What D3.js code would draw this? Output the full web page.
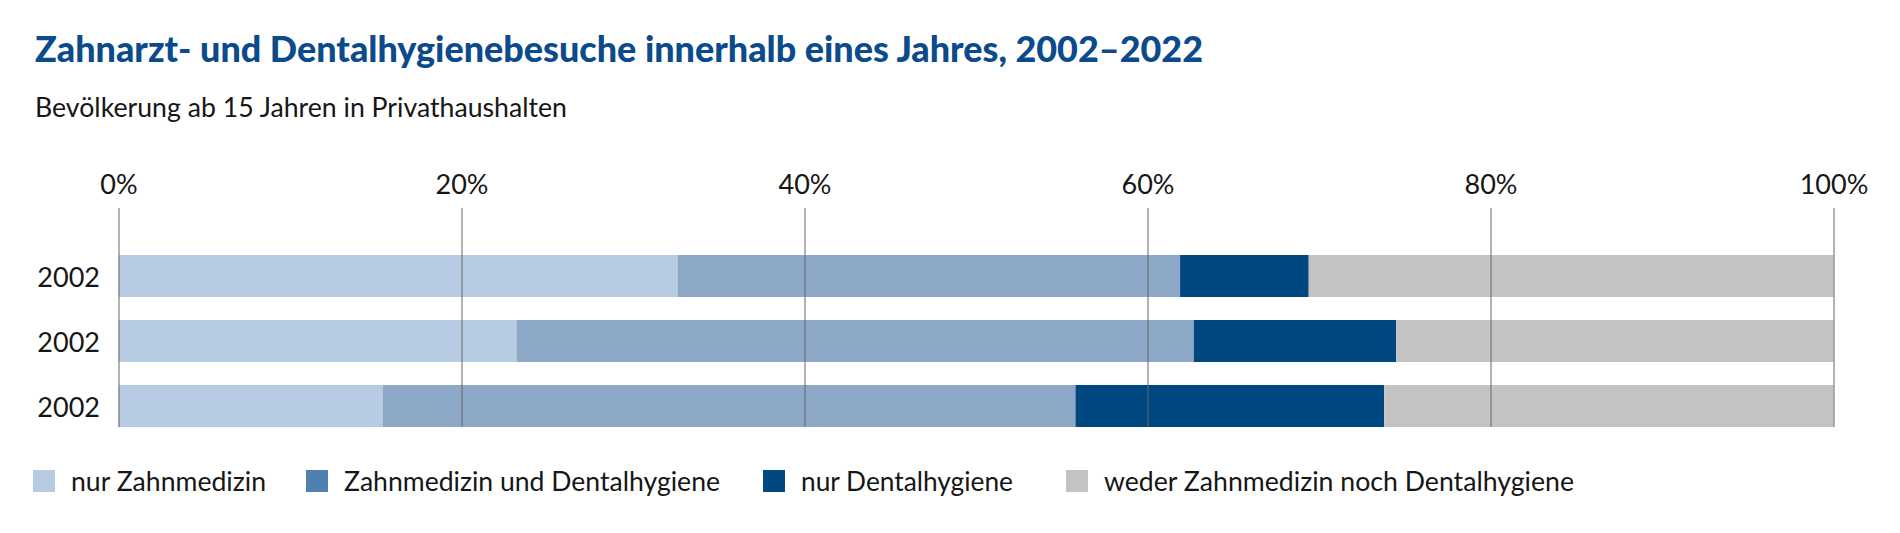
<!DOCTYPE html>
<html>
<head>
<meta charset="utf-8">
<script src="https://cdn.jsdelivr.net/npm/d3@7"></script>
<style>
  html, body { margin: 0; padding: 0; background: #fff; }
  svg { display: block; }
  text { font-family: Lato, "Open Sans", sans-serif; fill: #161616; }
</style>
</head>
<body>
<svg id="chart" width="1900" height="533"></svg>
<script>
// ---- data ----
const categories = ["2002", "2002", "2002"];
const seriesNames = ["nur Zahnmedizin", "Zahnmedizin und Dentalhygiene", "nur Dentalhygiene", "weder Zahnmedizin noch Dentalhygiene"];
const nurZahnmedizin = [32.6, 23.2, 15.4];
const zahnUndDental = [29.3, 39.5, 40.4];
const nurDentalhygiene = [7.5, 11.8, 18.0];
const weder = [30.6, 25.5, 26.2];
const tickValues = [0, 20, 40, 60, 80, 100];
const titleText = "Zahnarzt- und Dentalhygienebesuche innerhalb eines Jahres, 2002\u20132022";
const subtitleText = "Bevölkerung ab 15 Jahren in Privathaushalten";

// ---- styles ----
const barColors = ["#b7cce3", "#8ea8c7", "#00487f", "#c3c3c4"];
const legendColors = ["#b7cce3", "#4f80af", "#00487f", "#c3c3c4"];

const rows = categories.map((c, i) => ({
  idx: i, cat: c,
  s0: nurZahnmedizin[i], s1: zahnUndDental[i], s2: nurDentalhygiene[i], s3: weder[i]
}));
const keys = ["s0", "s1", "s2", "s3"];
const stacked = d3.stack().keys(keys)(rows);

const svg = d3.select("#chart");

const x = d3.scaleLinear().domain([0, 100]).range([118.5, 1833.5]);
const y = d3.scaleBand().domain(d3.range(categories.length)).range([255, 427]).paddingInner(0.354).paddingOuter(0);

// title & subtitle
svg.append("text")
  .attr("x", 35).attr("y", 62)
  .attr("textLength", 1168).attr("lengthAdjust", "spacingAndGlyphs")
  .style("font-size", "36px").style("font-weight", "900").style("fill", "#0b4a8b")
  .text(titleText);
svg.append("text")
  .attr("x", 35).attr("y", 117)
  .attr("textLength", 532).attr("lengthAdjust", "spacingAndGlyphs")
  .style("font-size", "27px")
  .text(subtitleText);

// bars
const gBars = svg.append("g");
gBars.selectAll("g").data(stacked).join("g")
  .attr("fill", (d, i) => barColors[i])
  .selectAll("rect").data(d => d).join("rect")
  .attr("x", d => x(d[0]))
  .attr("width", d => x(d[1]) - x(d[0]))
  .attr("y", d => y(d.data.idx))
  .attr("height", y.bandwidth());

// axis / gridlines (on top of bars)
const axis = d3.axisTop(x)
  .tickValues(tickValues)
  .tickFormat(d => d + "%")
  .tickSize(-(427 - 208))
  .tickPadding(14);
const gAxis = svg.append("g").attr("transform", "translate(0,208)").call(axis);
gAxis.select(".domain").remove();
gAxis.selectAll(".tick line").attr("stroke", "#666666").attr("stroke-width", 1);
gAxis.selectAll(".tick text")
  .style("font-size", "27px").style("font-family", "Lato, sans-serif").attr("fill", "#161616");

// category labels
svg.append("g").selectAll("text").data(rows).join("text")
  .attr("x", 100)
  .attr("y", d => y(d.idx) + y.bandwidth() / 2 + 11)
  .attr("text-anchor", "end")
  .style("font-size", "27px")
  .text(d => d.cat);

// legend
const legendX = [33, 306, 763, 1066];
const legendTextW = [195, 376, 212, 470];
const gLeg = svg.append("g");
const items = gLeg.selectAll("g").data(seriesNames).join("g")
  .attr("transform", (d, i) => `translate(${legendX[i]},470)`);
items.append("rect").attr("width", 22).attr("height", 22).attr("fill", (d, i) => legendColors[i]);
items.append("text")
  .attr("x", 38).attr("y", 21)
  .attr("textLength", (d, i) => legendTextW[i]).attr("lengthAdjust", "spacingAndGlyphs")
  .style("font-size", "27px")
  .text(d => d);
</script>
</body>
</html>
